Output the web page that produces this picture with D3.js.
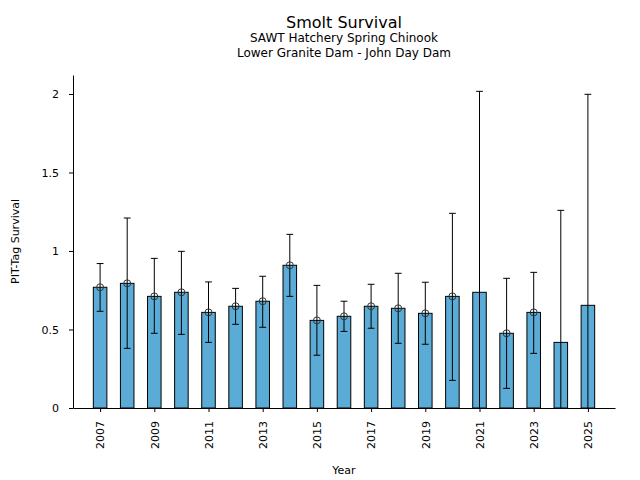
<!DOCTYPE html>
<html>
<head>
<meta charset="utf-8">
<script src="https://cdn.jsdelivr.net/npm/d3@7"></script>
<style>
  html, body { margin: 0; padding: 0; background: #fff; }
  svg { display: block; font-family: "DejaVu Sans", sans-serif; }
</style>
</head>
<body>
<svg id="chart" width="640" height="480"></svg>
<script>
const years = [2007, 2008, 2009, 2010, 2011, 2012, 2013, 2014, 2015, 2016, 2017, 2018, 2019, 2020, 2021, 2022, 2023, 2024, 2025];
const survival = [0.769, 0.794, 0.711, 0.737, 0.609, 0.648, 0.680, 0.909, 0.558, 0.584, 0.648, 0.635, 0.603, 0.711, 0.737, 0.476, 0.609, 0.418, 0.654];
const upperCI = [0.920, 1.210, 0.953, 0.998, 0.803, 0.762, 0.839, 1.106, 0.781, 0.680, 0.788, 0.858, 0.801, 1.240, 2.017, 0.826, 0.864, 1.259, 1.998];
const lowerCI = [0.616, 0.380, 0.476, 0.469, 0.418, 0.533, 0.514, 0.711, 0.336, 0.488, 0.508, 0.412, 0.406, 0.176, 0.000, 0.125, 0.348, 0.000, 0.000];
const pointEstimate = [0.769, 0.794, 0.711, 0.737, 0.609, 0.648, 0.680, 0.909, 0.558, 0.584, 0.648, 0.635, 0.603, 0.711, null, 0.476, 0.609, null, null];
const xTickYears = [2007, 2009, 2011, 2013, 2015, 2017, 2019, 2021, 2023, 2025];
const yTicks = [0, 0.5, 1, 1.5, 2];

const data = years.map((yr, i) => ({ year: yr, value: survival[i], hi: upperCI[i], lo: lowerCI[i], pt: pointEstimate[i] }));

const svg = d3.select("#chart");
const pLeft = 73, pRight = 615, pTop = 75, pBottom = 408;

const x = d3.scaleLinear().domain([2006, 2026]).range([pLeft, pRight]);
const y = d3.scaleLinear().domain([0, 2.121]).range([pBottom, pTop]);
const barW = x(2006.5) - x(2006);

svg.append("defs").append("clipPath").attr("id", "plotclip")
  .append("rect").attr("x", pLeft).attr("y", pTop).attr("width", pRight - pLeft).attr("height", pBottom - pTop);

const plot = svg.append("g").attr("clip-path", "url(#plotclip)");

plot.selectAll("rect.bar").data(data).join("rect")
  .attr("class", "bar")
  .attr("x", d => x(d.year) - barW / 2)
  .attr("y", d => y(d.value))
  .attr("width", barW)
  .attr("height", d => y(0) - y(d.value))
  .attr("fill", "#5aacd6")
  .attr("stroke", "#000")
  .attr("stroke-width", 1);

const capW = 3.4;
const err = plot.selectAll("g.err").data(data).join("g").attr("class", "err");
err.append("line")
  .attr("x1", d => x(d.year)).attr("x2", d => x(d.year))
  .attr("y1", d => y(d.lo)).attr("y2", d => y(d.hi))
  .attr("stroke", "#000").attr("stroke-width", 1);
err.append("line")
  .attr("x1", d => x(d.year) - capW).attr("x2", d => x(d.year) + capW)
  .attr("y1", d => y(d.hi)).attr("y2", d => y(d.hi))
  .attr("stroke", "#000").attr("stroke-width", 1);
err.filter(d => d.lo > 0).append("line")
  .attr("x1", d => x(d.year) - capW).attr("x2", d => x(d.year) + capW)
  .attr("y1", d => y(d.lo)).attr("y2", d => y(d.lo))
  .attr("stroke", "#000").attr("stroke-width", 1);

plot.selectAll("circle.pt").data(data.filter(d => d.pt !== null)).join("circle")
  .attr("class", "pt")
  .attr("cx", d => x(d.year))
  .attr("cy", d => y(d.pt))
  .attr("r", 3.5)
  .attr("fill", "none")
  .attr("stroke", "#333")
  .attr("stroke-width", 1);

// Axes
const xAxis = d3.axisBottom(x).tickValues(xTickYears).tickFormat(d3.format("d")).tickSize(4).tickPadding(9).tickSizeOuter(0);
const gx = svg.append("g").attr("transform", `translate(0,${pBottom})`).call(xAxis);
gx.select(".domain").attr("stroke", "#000");
gx.selectAll(".tick line").attr("stroke", "#000");
gx.selectAll(".tick text")
  .attr("font-size", 11)
  .attr("font-family", "DejaVu Sans")
  .attr("fill", "#000")
  .attr("transform", "rotate(-90)")
  .attr("text-anchor", "end")
  .attr("x", -13)
  .attr("y", 0)
  .attr("dy", "0.35em");

const yAxis = d3.axisLeft(y).tickValues(yTicks).tickFormat(d => String(d)).tickSize(4).tickPadding(10).tickSizeOuter(0);
const gy = svg.append("g").attr("transform", `translate(${pLeft},0)`).call(yAxis);
gy.select(".domain").attr("stroke", "#000");
gy.selectAll(".tick line").attr("stroke", "#000");
gy.selectAll(".tick text").attr("font-size", 11).attr("font-family", "DejaVu Sans").attr("fill", "#000");

// Titles and labels
const cx = (pLeft + pRight) / 2;
svg.append("text").attr("x", cx).attr("y", 28).attr("text-anchor", "middle")
  .attr("font-size", 16).text("Smolt Survival");
svg.append("text").attr("x", cx).attr("y", 42).attr("text-anchor", "middle")
  .attr("font-size", 12).text("SAWT Hatchery Spring Chinook");
svg.append("text").attr("x", cx).attr("y", 57).attr("text-anchor", "middle")
  .attr("font-size", 12).text("Lower Granite Dam - John Day Dam");
svg.append("text").attr("x", cx).attr("y", 474).attr("text-anchor", "middle")
  .attr("font-size", 11).text("Year");
svg.append("text").attr("transform", `translate(19,${(pTop + pBottom) / 2}) rotate(-90)`)
  .attr("text-anchor", "middle").attr("font-size", 11).text("PIT-Tag Survival");
</script>
</body>
</html>
